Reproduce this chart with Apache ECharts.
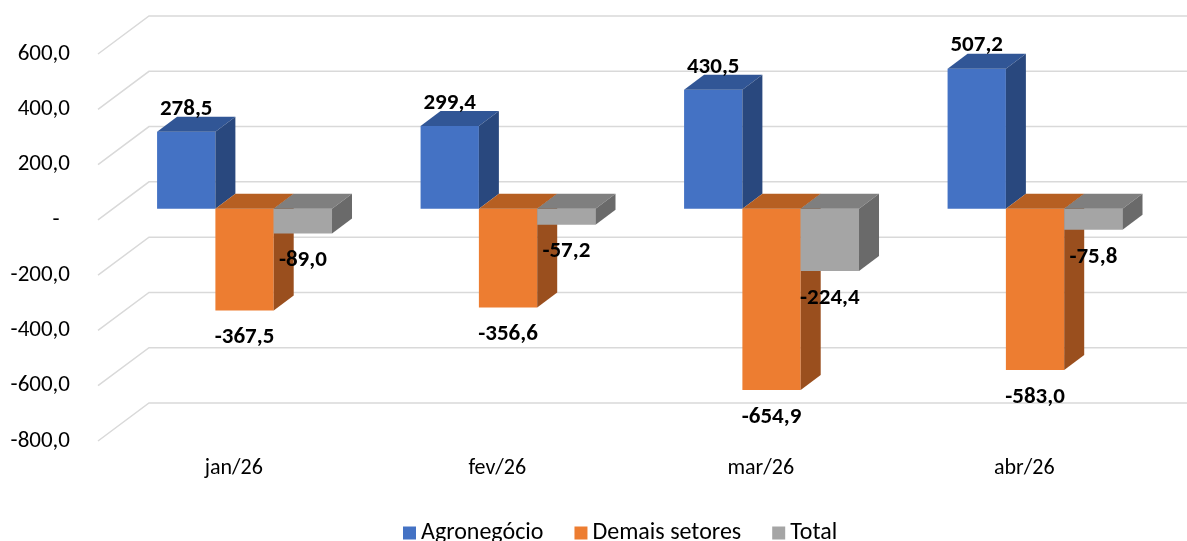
<!DOCTYPE html>
<html>
<head>
<meta charset="utf-8">
<script src="https://cdn.jsdelivr.net/npm/echarts@6/dist/echarts.min.js"></script>
<style>
	html, body { margin: 0; padding: 0; background: #fff; }
	#chart { width: 1187px; height: 541px; }
</style>
</head>
<body>
<div id="chart"></div>
<script>
// dados
var categories = ['jan/26', 'fev/26', 'mar/26', 'abr/26']
var agro = [278.5, 299.4, 430.5, 507.2]
var demais = [-367.5, -356.6, -654.9, -583.0]
var total = [-89.0, -57.2, -224.4, -75.8]
var yTicks = [600, 400, 200, 0, -200, -400, -600, -800]

var FONT = 'Carlito, Lato, sans-serif'
// profundidade do "3D"
var WALL_DX = 51, WALL_DY = 38
var BAR_SHIFT_X = 14.8, BAR_SHIFT_Y = 11
var TOP_DX = 20, TOP_DY = 15

var faces = [
	{ front: '#4472C4', top: '#315696', side: '#29487E' },
	{ front: '#ED7D31', top: '#B65F22', side: '#9A4F1E' },
	{ front: '#A5A5A5', top: '#7F7F7F', side: '#6A6A6A' }
]

function fmt(v) {
	return v.toFixed(1).replace('.', ',')
}

// linhas de grade inclinadas + parede de fundo
function gridItem(params, api) {
	var band = api.size([1, 0])[0]
	var p = api.coord([0, api.value(1)])
	var left = p[0] - band / 2
	var right = api.coord([categories.length - 1, 0])[0] + band / 2 + WALL_DX
	var y = p[1]
	return {
		type: 'polyline',
		shape: { points: [[left, y], [left + WALL_DX, y - WALL_DY], [right, y - WALL_DY]] },
		style: { stroke: '#D9D9D9', lineWidth: 1.5, fill: null }
	}
}

function barItem(si) {
	return function (params, api) {
		var idx = api.value(0)
		var val = api.value(1)
		var band = api.size([1, 0])[0]
		var bw = band * 0.2213
		var c = api.coord([idx, 0])
		var L = c[0] - 1.5 * bw + si * bw + BAR_SHIFT_X
		var zeroY = c[1] - BAR_SHIFT_Y
		var valY = api.coord([idx, val])[1] - BAR_SHIFT_Y
		var top = Math.min(zeroY, valY)
		var bottom = Math.max(zeroY, valY)
		var f = faces[si]
		var labelY = val >= 0 ? top - 23 : bottom + 27
		return {
			type: 'group',
			children: [
				{
					type: 'rect',
					shape: { x: L, y: top, width: bw, height: bottom - top },
					style: { fill: f.front }
				},
				{
					type: 'polygon',
					shape: { points: [[L, top], [L + TOP_DX, top - TOP_DY], [L + bw + TOP_DX, top - TOP_DY], [L + bw, top]] },
					style: { fill: f.top }
				},
				{
					type: 'polygon',
					shape: { points: [[L + bw, top], [L + bw + TOP_DX, top - TOP_DY], [L + bw + TOP_DX, bottom - TOP_DY], [L + bw, bottom]] },
					style: { fill: f.side }
				},
				{
					type: 'text',
					z2: 10,
					style: {
						text: fmt(val),
						x: L + bw / 2,
						y: labelY,
						align: 'center',
						verticalAlign: 'middle',
						fontFamily: FONT,
						fontWeight: 'bold',
						fontSize: 23,
						fill: '#000'
					}
				}
			]
		}
	}
}

function toData(arr) {
	return arr.map(function (v, i) { return [i, v] })
}

var chart = echarts.init(document.getElementById('chart'))
chart.setOption({
	animation: false,
	textStyle: { fontFamily: FONT },
	grid: { left: 98, right: 35, top: 54, bottom: 100, containLabel: false },
	legend: {
		data: ['Agronegócio', 'Demais setores', 'Total'],
		left: 398,
		top: 516,
		icon: 'rect',
		itemWidth: 13,
		itemHeight: 13,
		itemGap: 31,
		textStyle: { fontSize: 24, color: '#000', fontFamily: FONT }
	},
	xAxis: {
		type: 'category',
		data: categories,
		axisLine: { show: false },
		axisTick: { show: false },
		splitLine: { show: false },
		axisLabel: { fontSize: 22, color: '#000', margin: 16, padding: [0, 0, 0, 8], fontFamily: FONT }
	},
	yAxis: {
		type: 'value',
		min: -800,
		max: 600,
		interval: 200,
		axisLine: { show: false },
		axisTick: { show: false },
		splitLine: { show: false },
		axisLabel: {
			fontSize: 23,
			color: '#000',
			margin: 28,
			fontFamily: FONT,
			formatter: function (v) { return v === 0 ? '-  ' : fmt(v) }
		}
	},
	series: [
		{
			name: 'grade',
			type: 'custom',
			z: 1,
			silent: true,
			clip: false,
			itemStyle: { color: '#D9D9D9' },
			renderItem: gridItem,
			data: yTicks.map(function (v) { return [0, v] })
		},
		{ name: 'Agronegócio', type: 'custom', z: 2, clip: false, itemStyle: { color: faces[0].front }, renderItem: barItem(0), data: toData(agro) },
		{ name: 'Demais setores', type: 'custom', z: 3, clip: false, itemStyle: { color: faces[1].front }, renderItem: barItem(1), data: toData(demais) },
		{ name: 'Total', type: 'custom', z: 4, clip: false, itemStyle: { color: faces[2].front }, renderItem: barItem(2), data: toData(total) }
	]
})
</script>
</body>
</html>
